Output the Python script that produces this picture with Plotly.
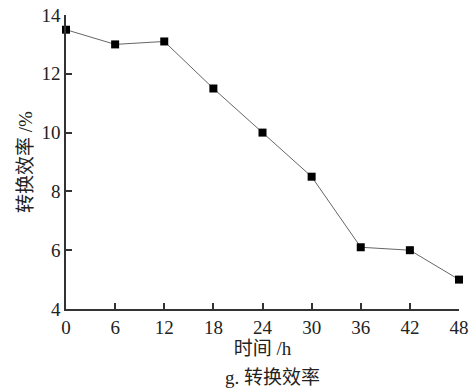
import plotly.graph_objects as go

hours = [0, 6, 12, 18, 24, 30, 36, 42, 48]
efficiency = [13.5, 13.0, 13.1, 11.5, 10.0, 8.5, 6.1, 6.0, 5.0]
x_ticks = [0, 6, 12, 18, 24, 30, 36, 42, 48]
y_ticks = [4, 6, 8, 10, 12, 14]

serif = "'Liberation Serif', 'Times New Roman', 'Noto Sans CJK SC', serif"

fig = go.Figure()
fig.add_trace(go.Scatter(
    x=hours, y=efficiency, mode="lines+markers",
    line=dict(color="#666666", width=1),
    marker=dict(symbol="square", size=8, color="black"),
    showlegend=False, cliponaxis=False,
))

fig.update_layout(
    width=471, height=391,
    margin=dict(l=66, r=12, t=15, b=82, autoexpand=False),
    paper_bgcolor="white", plot_bgcolor="white",
    font=dict(family=serif, size=19, color="#222222"),
    xaxis=dict(
        range=[0, 48], tickvals=x_ticks, ticktext=[str(v) for v in x_ticks],
        showline=True, linecolor="#333333", linewidth=1.5,
        ticks="inside", ticklen=6, tickwidth=1.5, tickcolor="#333333",
        showgrid=False, zeroline=False, automargin=False,
        title=dict(text="时间 /h", font=dict(size=19, family=serif), standoff=4),
    ),
    yaxis=dict(
        range=[4, 14], tickvals=y_ticks, ticktext=[str(v) for v in y_ticks],
        showline=True, linecolor="#333333", linewidth=1.5,
        ticks="inside", ticklen=6, tickwidth=1.5, tickcolor="#333333",
        showgrid=False, zeroline=False, automargin=False,
        title=dict(text="转换效率 /%", font=dict(size=19, family=serif), standoff=4),
    ),
)

fig.add_annotation(
    text="g. 转换效率", xref="paper", yref="paper", x=0.525, y=-0.19,
    xanchor="center", yanchor="top", showarrow=False,
    font=dict(size=19, family=serif, color="#222222"),
)

fig.write_html("out.html")
